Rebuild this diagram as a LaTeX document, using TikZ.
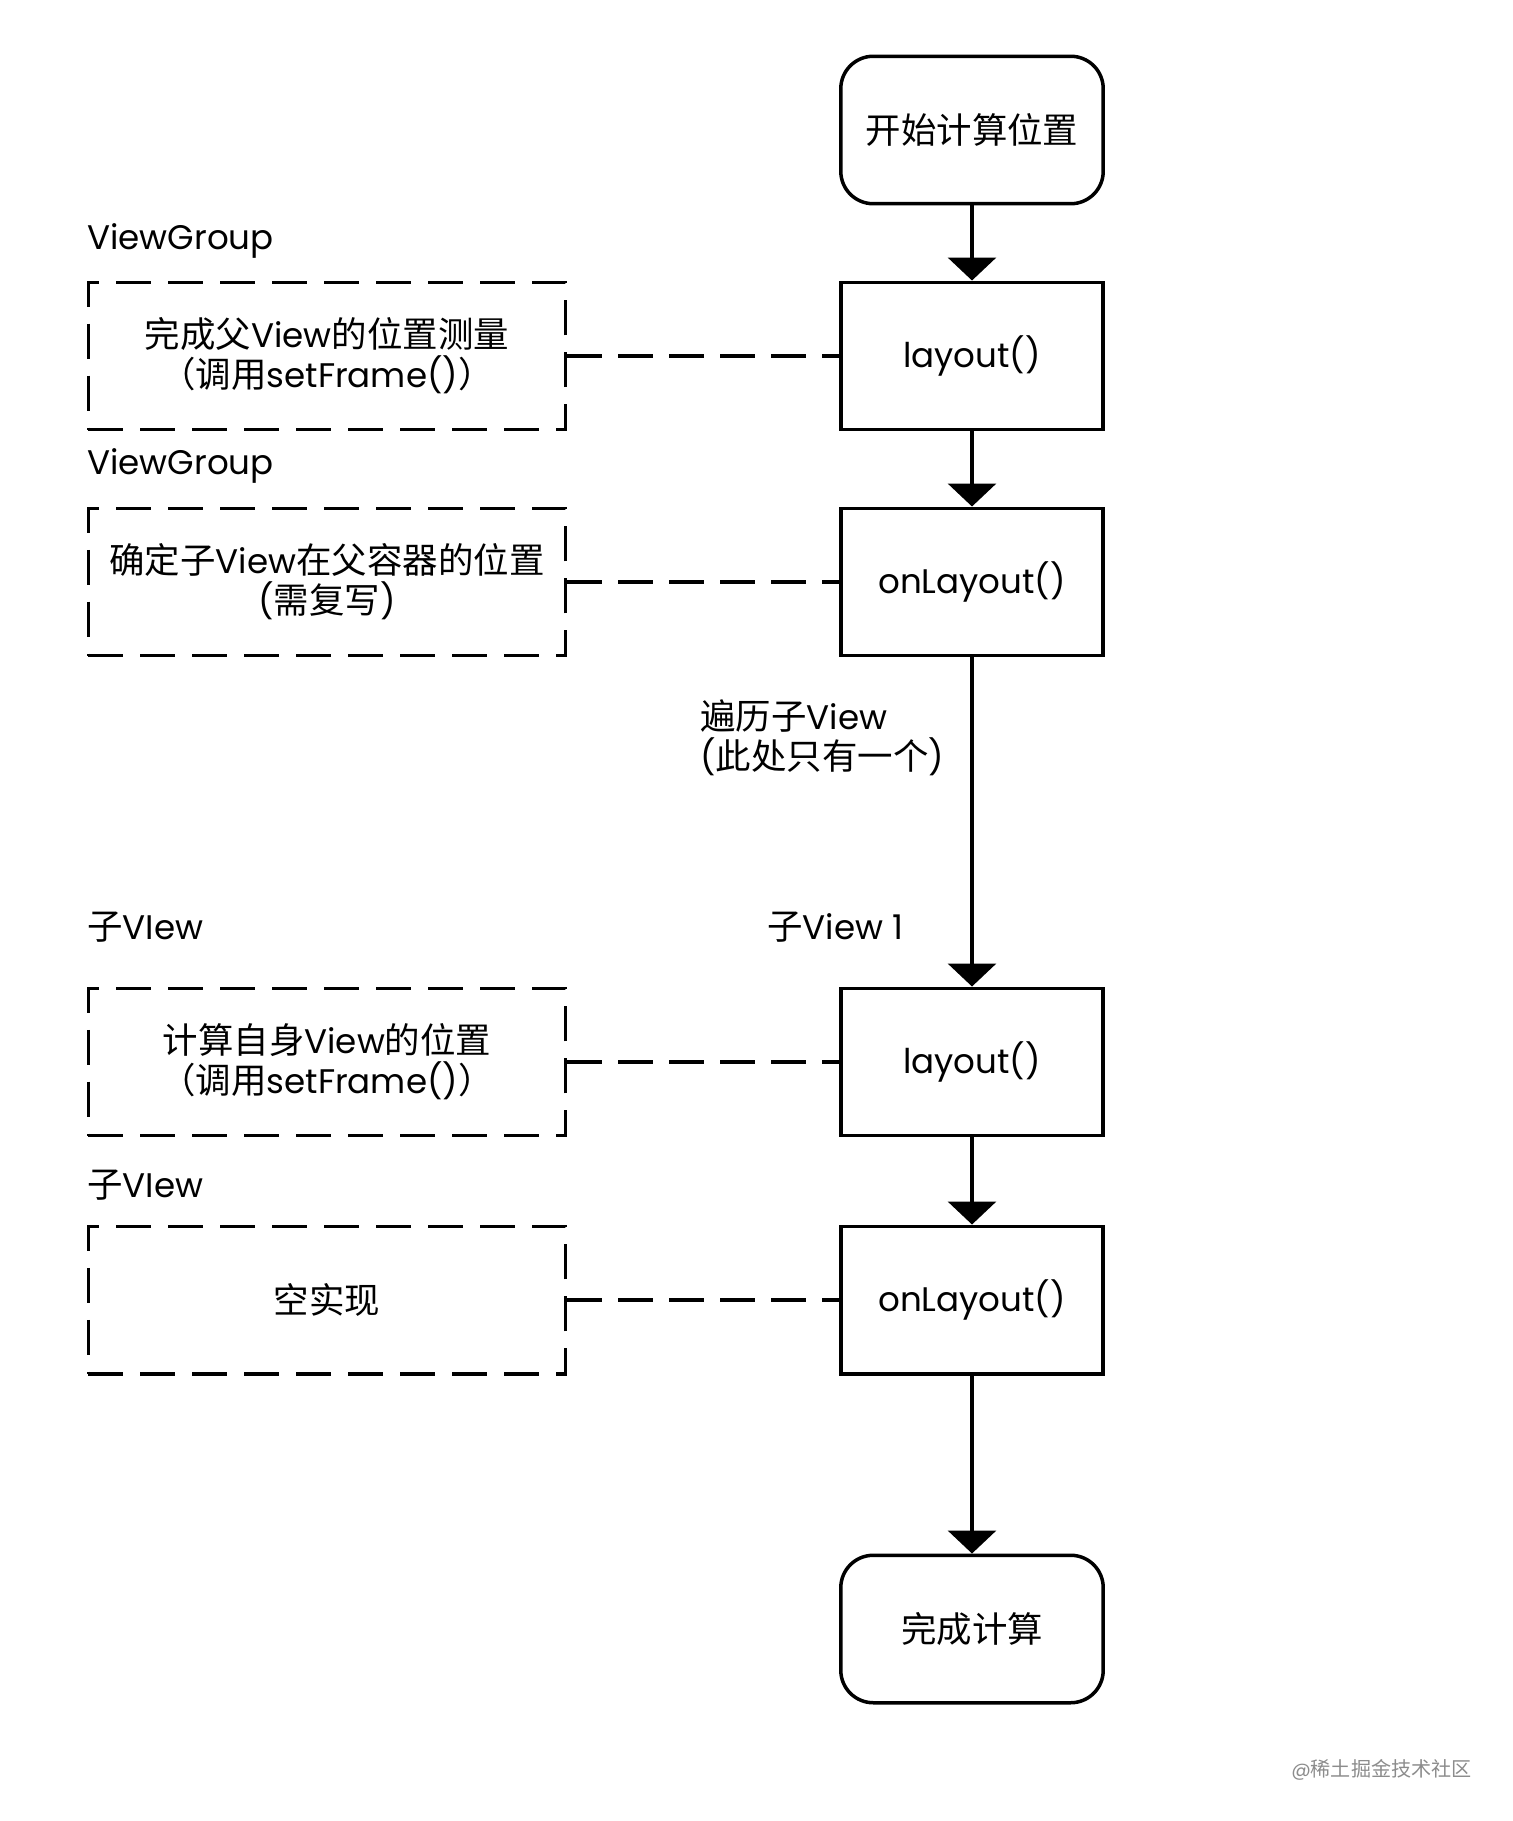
\documentclass[tikz,border=0pt]{standalone}
\usepackage{fontspec}
\setmainfont{Poppins}
\newfontfamily\cjk[Scale=1.04]{Noto Sans CJK SC}
\usetikzlibrary{arrows.meta}

\tikzset{
  startstop/.style={draw, line width=.07cm, rounded corners=.65cm,
    minimum width=5.25cm, minimum height=2.95cm, align=center},
  stepbox/.style={draw, line width=.07cm,
    minimum width=5.25cm, minimum height=2.95cm, align=center},
  notebox/.style={draw, line width=.07cm, dash pattern=on .7cm off .34cm,
    minimum width=9.55cm, minimum height=2.95cm, align=center},
  flow/.style={line width=.07cm, -{Triangle[width=.96cm, length=.46cm]}},
  link/.style={line width=.07cm, dash pattern=on .7cm off .32cm},
  tag/.style={anchor=west, inner sep=0pt},
}

\begin{document}
\begin{tikzpicture}[x=.02cm, y=-.02cm, font=\fontsize{19.4}{22.8}\selectfont]
                      \useasboundingbox (0, 0) rectangle (1512, 1821);
                      % main column
                      \node[startstop] (start) at (972, 130) {\cjk 开始计算位置};
                      \node[stepbox] (layoutA) at (972, 356) {layout()};
                      \node[stepbox] (onlayoutA) at (972, 582) {onLayout()};
                      \node[stepbox] (layoutB) at (972, 1062) {layout()};
                      \node[stepbox] (onlayoutB) at (972, 1300) {onLayout()};
                      \node[startstop] (finish) at (972, 1629) {\cjk 完成计算};
                      \draw[flow] (start) -- (layoutA);
                      \draw[flow] (layoutA) -- (onlayoutA);
                      \draw[flow] (onlayoutA) -- (layoutB);
                      \draw[flow] (layoutB) -- (onlayoutB);
                      \draw[flow] (onlayoutB) -- (finish);
                      % notes on the left
                      \node[notebox] (noteA) at (327, 356) {{\cjk 完成父}View{\cjk 的位置测量}\\{\cjk （调用}setFrame(){\cjk ）}};
                      \node[notebox] (noteB) at (327, 582) {{\cjk 确定子}View{\cjk 在父容器的位置}\\({\cjk 需复写})};
                      \node[notebox] (noteC) at (327, 1062) {{\cjk 计算自身}View{\cjk 的位置}\\{\cjk （调用}setFrame(){\cjk ）}};
                      \node[notebox] (noteD) at (327, 1300) {\cjk 空实现};
                      \draw[link] (noteA) -- (layoutA);
                      \draw[link] (noteB) -- (onlayoutA);
                      \draw[link] (noteC) -- (layoutB);
                      \draw[link] (noteD) -- (onlayoutB);
                      % labels
                      \node[tag] (groupA) at (87, 241) {ViewGroup};
                      \node[tag] (groupB) at (87, 466) {ViewGroup};
                      \node[tag] (childA) at (87, 927) {{\cjk 子}VIew};
                      \node[tag] (childB) at (87, 1185) {{\cjk 子}VIew};
                      \node[tag, align=left] (loop) at (700, 738) {{\cjk 遍历子}View\\({\cjk 此处只有一个})};
                      \node[tag] (childone) at (767, 927) {{\cjk 子}View 1};
                      \node[anchor=east, inner sep=0pt, text=black!45] (mark) at (1472, 1770) {\fontsize{11}{13}\selectfont @{\cjk 稀土掘金技术社区}};
                  \end{tikzpicture}
\end{document}
